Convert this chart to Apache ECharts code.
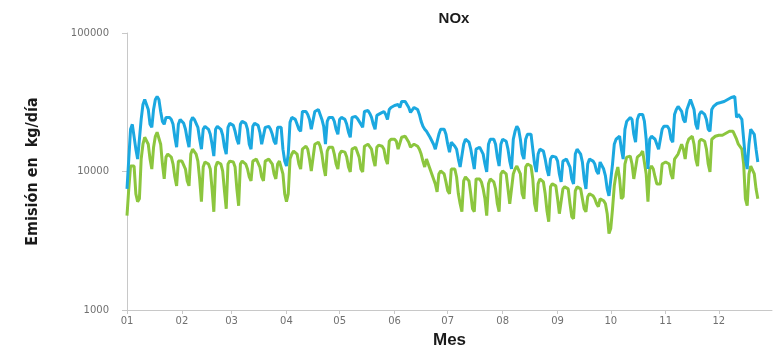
<!DOCTYPE html>
<html>
<head>
<meta charset="utf-8">
<script src="https://cdn.jsdelivr.net/npm/echarts@6/dist/echarts.min.js"></script>
<style>
  html, body { margin: 0; padding: 0; background: #fff; }
  #chart { width: 779px; height: 354px; }
</style>
</head>
<body>
<div id="chart"></div>
<script>
'use strict';

// month tick labels and month lengths (daily series, one value per day)
const monthLabels = ['01', '02', '03', '04', '05', '06', '07', '08', '09', '10', '11', '12'];
const monthDays = [31, 28, 31, 30, 31, 30, 31, 31, 30, 31, 30, 31];
const yTicks = [1000, 10000, 100000];

// daily emission, kg/dia — one row per week (Sun..Sat)
const serieAzul = [
  7490, 12290, 20170, 21900, 21900, 14500, 12290,
  12700, 23780, 30470, 33090, 32010, 28050, 21900,
  20840, 28050, 33090, 34770, 33090, 27140, 23010,
  21900, 24590, 25410, 24590, 23780, 21900, 17670,
  14980, 21900, 23780, 23010, 22260, 20170, 17100,
  14980, 23010, 24590, 23780, 23010, 20840, 17100,
  14500, 20170, 21190, 20840, 20170, 18570, 15740,
  12920, 20170, 21190, 20840, 20170, 18270, 14980,
  13350, 20840, 22260, 21900, 21540, 19510, 17100,
  15740, 21900, 23010, 22630, 22260, 20170, 15740,
  14500, 21190, 22260, 21900, 21540, 19190, 15740,
  15230, 20840, 21540, 21190, 20170, 18570, 16540,
  15740, 20840, 21540, 20840, 14500, 11890, 10950,
  13350, 22630, 24590, 25000, 23780, 21900, 20170,
  19510, 27140, 28050, 27140, 25840, 23780, 20170,
  20170, 27140, 28050, 28050, 25840, 23780, 21190,
  15740, 23010, 24590, 25000, 24590, 23010, 20170,
  18570, 23780, 24590, 25000, 23780, 21900, 19190,
  17670, 24590, 25410, 25000, 24180, 23780, 21900,
  20840, 27140, 28050, 27590, 26260, 24590, 21900,
  20170, 25410, 25840, 26260, 26700, 27140, 25840,
  23780, 28050, 29000, 29480, 29970, 30980, 30470,
  29000, 32010, 33090, 32010, 30470, 29000, 26700,
  27140, 29000, 29000, 28050, 25840, 23010, 21190,
  20170, 19510, 18570, 17670, 17100, 15740, 14500,
  14500, 18570, 20170, 20840, 20170, 18570, 15740,
  13800, 16270, 15740, 15230, 14500, 12290, 10770,
  10420, 15740, 17100, 16820, 16270, 14500, 12290,
  10420, 14500, 14980, 14980, 14500, 13350, 11320,
  9920, 15740, 17100, 17670, 17100, 15740, 12700,
  10950, 15740, 17100, 17100, 16540, 14500, 11890,
  10420, 17100, 19510, 21190, 20170, 17100, 13350,
  12290, 17100, 18570, 19190, 18570, 14500, 11320,
  9920, 13350, 14500, 14500, 14030, 12290, 10420,
  9290, 12290, 12920, 12920, 12700, 11890, 9600,
  8410, 11890, 12290, 12290, 11890, 10770, 8840,
  8140, 13350, 14500, 14030, 13350, 11700, 8840,
  7490, 11320, 12290, 12290, 11890, 11320, 10080,
  9600, 11700, 11320, 10420, 9290, 7490, 6680,
  6900, 11320, 15740, 17100, 17670, 17970, 14500,
  12290, 20170, 23010, 23780, 24590, 23780, 18570,
  16270, 23780, 25840, 26700, 25840, 23010, 17100,
  10420, 17100, 17970, 17970, 17100, 15740, 14500,
  14500, 20170, 21190, 21190, 21190, 20170, 17100,
  16270, 25840, 28050, 29480, 29000, 27140, 23780,
  22630, 28050, 30470, 33090, 32010, 28050, 21900,
  20170, 25840, 27140, 26700, 25840, 23780, 20170,
  19510, 28050, 29480, 30470, 30980, 31490, 31490,
  31490, 32010, 32550, 33090, 33640, 34200, 34770,
  34770, 24590, 25840, 26700, 23780, 17100, 12290,
  10420, 15740, 20170, 20840, 18570, 14500, 11700
];

const serieVerde = [
  4800, 7490, 10950, 11320, 10950, 6900, 6050,
  6350, 12290, 15740, 17670, 17970, 15740, 12290,
  10420, 14980, 17970, 19190, 18570, 15740, 11320,
  8840, 12700, 13350, 12920, 12700, 11320, 9130,
  7880, 11890, 12290, 11890, 11510, 10420, 8550,
  7880, 13350, 14500, 14030, 13350, 11890, 8840,
  6050, 10770, 11700, 11700, 11320, 10420, 7490,
  5120, 10770, 11700, 11700, 11320, 10080, 7250,
  5380, 11320, 11890, 11890, 11700, 10770, 7490,
  5660, 11320, 11890, 11700, 11320, 10420, 9130,
  8550, 11890, 12290, 12290, 11890, 10770, 9130,
  8550, 11890, 12290, 12290, 11890, 11320, 9600,
  8840, 11320, 11890, 11700, 9600, 6900, 6050,
  6900, 12290, 13350, 14030, 14500, 13350, 11320,
  10420, 14500, 14980, 15230, 14500, 12290, 10080,
  9920, 15740, 16270, 16270, 15230, 13350, 10770,
  9290, 14030, 14980, 15230, 14980, 13350, 11320,
  10420, 13350, 14030, 14030, 13800, 12700, 10770,
  9920, 14500, 14980, 14980, 14500, 12700, 10420,
  9920, 15230, 15740, 15740, 15230, 14500, 12290,
  10950, 14980, 15490, 15230, 15230, 14500, 12290,
  11320, 16540, 17100, 17100, 17100, 16540, 14500,
  14500, 17670, 17970, 17970, 17100, 16270, 14980,
  14500, 15740, 15740, 15230, 14500, 13350, 11890,
  10770, 12290, 11320, 10420, 9600, 8840, 8140,
  7130, 9600, 10080, 10080, 9600, 8410, 7250,
  6900, 10420, 10770, 10420, 9130, 6900, 5850,
  5120, 8550, 9130, 8840, 8550, 6900, 5380,
  5120, 8840, 9130, 8840, 8410, 7490, 6350,
  4800, 8140, 8840, 8840, 8410, 7490, 5850,
  5120, 9600, 10080, 9920, 9600, 7490, 5850,
  5660, 9600, 10420, 10950, 11320, 9600, 6900,
  6350, 10770, 11320, 11320, 10950, 8840, 5850,
  5120, 8140, 8840, 8840, 8410, 6900, 5210,
  4340, 7750, 8140, 8140, 7880, 6350, 4960,
  4800, 7490, 7750, 7750, 7490, 5850, 4720,
  4560, 7250, 7750, 7750, 7490, 6350, 5380,
  5120, 6570, 6900, 6900, 6680, 6350, 5850,
  5570, 6350, 6350, 6150, 5850, 4960, 3560,
  3870, 5380, 7880, 9600, 10770, 8840, 6350,
  6570, 11320, 12700, 12920, 12920, 11320, 8840,
  8840, 12700, 12920, 13350, 14030, 14500, 9600,
  6050, 10420, 10950, 10420, 9130, 8140, 7880,
  8140, 11320, 11700, 11700, 11320, 11320, 9600,
  8840, 12290, 12700, 13350, 14500, 15740, 14500,
  12290, 15740, 17100, 17670, 17970, 15740, 12290,
  10950, 16540, 17100, 17100, 16540, 14500, 11320,
  9920, 17100, 17670, 17970, 17970, 18270, 18270,
  18270, 18570, 18880, 19190, 19510, 19510, 19510,
  19190, 17100, 15740, 16270, 14500, 11320, 6350,
  5660, 9600, 10950, 10770, 9600, 7490, 6350
];

// one category per day; month label on the first day of each month
const dias = [];
const inicioMes = {};
monthDays.forEach((n, m) => {
  inicioMes[dias.length] = monthLabels[m];
  for (let d = 1; d <= n; d++) {
    dias.push(monthLabels[m] + '-' + (d < 10 ? '0' + d : d));
  }
});
const esInicio = (idx) => Object.prototype.hasOwnProperty.call(inicioMes, idx);

const axisGray = '#c8c8c8';
const labelStyle = {color: '#707070', fontSize: 10, fontFamily: 'DejaVu Sans, Verdana, sans-serif'};

const chart = echarts.init(document.getElementById('chart'), null, {renderer: 'canvas'});
chart.setOption({
  animation: false,
  backgroundColor: '#ffffff',
  title: {
    text: 'NOx',
    left: 449,
    top: 6,
    textAlign: 'center',
    textStyle: {fontSize: 15, fontWeight: 'bold', color: '#1a1a1a', fontFamily: 'Liberation Sans, Arial, sans-serif'}
  },
  grid: {left: 127, right: 7, top: 33, bottom: 42, containLabel: false},
  xAxis: {
    type: 'category',
    data: dias,
    boundaryGap: false,
    name: 'Mes',
    nameLocation: 'middle',
    nameGap: 22,
    nameTextStyle: {fontSize: 17, fontWeight: 'bold', color: '#1a1a1a', fontFamily: 'Liberation Sans, Arial, sans-serif'},
    axisLine: {lineStyle: {color: axisGray, width: 1}},
    axisTick: {show: true, interval: esInicio, length: 4, lineStyle: {color: axisGray}},
    axisLabel: Object.assign({interval: esInicio, margin: 6, formatter: (v) => v.slice(0, 2)}, labelStyle),
    splitLine: {show: false}
  },
  yAxis: {
    type: 'log',
    logBase: 10,
    min: yTicks[0],
    max: yTicks[yTicks.length - 1],
    name: 'Emisión en  kg/día',
    nameLocation: 'middle',
    nameGap: 86,
    nameTextStyle: {fontSize: 16, fontWeight: 'bold', color: '#1a1a1a', fontFamily: 'DejaVu Sans Condensed, Liberation Sans Narrow, sans-serif'},
    axisLine: {show: true, lineStyle: {color: axisGray, width: 1}},
    axisTick: {show: true, length: 5, lineStyle: {color: axisGray}},
    axisLabel: Object.assign({margin: 18, formatter: (v) => String(Math.round(v))}, labelStyle),
    splitLine: {show: false}
  },
  series: [
    {
      name: 'verde',
      type: 'line',
      data: serieVerde,
      showSymbol: false,
      smooth: false,
      lineStyle: {color: '#8cc63e', width: 3},
      itemStyle: {color: '#8cc63e'}
    },
    {
      name: 'azul',
      type: 'line',
      data: serieAzul,
      showSymbol: false,
      smooth: false,
      lineStyle: {color: '#1ba8e0', width: 3},
      itemStyle: {color: '#1ba8e0'}
    }
  ]
});
</script>
</body>
</html>
